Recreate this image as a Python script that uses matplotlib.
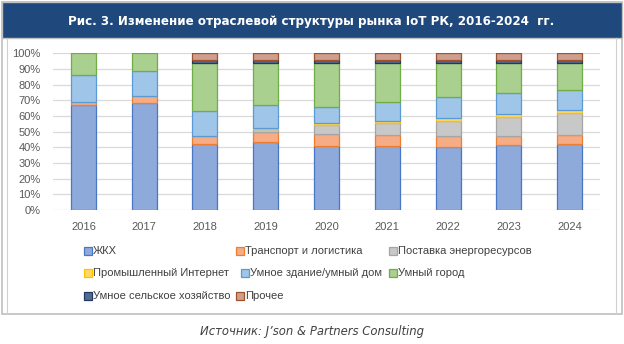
import numpy as np
import matplotlib
matplotlib.use("Agg")
from matplotlib import pyplot as plt
from matplotlib.patches import Rectangle
from matplotlib.lines import Line2D
from matplotlib.ticker import PercentFormatter

plt.rcParams['font.family'] = ['Liberation Sans', 'DejaVu Sans']

years = ["2016", "2017", "2018", "2019", "2020", "2021", "2022", "2023", "2024"]
segments = ["ЖКХ", "Транспорт и логистика", "Поставка энергоресурсов",
            "Промышленный Интернет", "Умное здание/умный дом", "Умный город",
            "Умное сельское хозяйство", "Прочее"]

# shares in %, one list per segment, in the order of years
zhkh      = [67, 68, 42.0, 43.5, 41.0, 41.0, 40.5, 41.5, 42.0]
transport = [2,  5,  5.0,  6.0,  7.5,  7.0,  7.0,  6.0,  6.0]
energy    = [0,  0,  0.5,  2.5,  5.5,  7.5,  9.5, 12.0, 14.0]
industry  = [0,  0,  0.0,  0.5,  1.5,  1.5,  1.5,  1.5,  1.5]
building  = [17, 16, 15.5, 14.5, 10.0, 12.0, 13.5, 13.5, 13.0]
city      = [14, 11, 30.5, 26.5, 28.0, 24.5, 21.5, 19.0, 17.0]
agro      = [0,  0,  2.0,  2.0,  2.0,  2.0,  2.0,  2.0,  2.0]
other     = [0,  0,  4.5,  4.5,  4.5,  4.5,  4.5,  4.5,  4.5]

series = [zhkh, transport, energy, industry, building, city, agro, other]
fills = ["#8eaadb", "#f6ad86", "#c8c8c8", "#ffd862", "#9fc5e8", "#a9d08e", "#56698f", "#cf9e8f"]
edges = ["#4a76c6", "#ed7d31", "#a5a5a5", "#ffc000", "#5b9bd5", "#70ad47", "#203864", "#a0522d"]

W, H = 624, 344
fig = plt.figure(figsize=(W / 100, H / 100), dpi=100)

def fx(x):
    return x / W

def fy(y):
    return 1 - y / H

# frame and title banner
fig.add_artist(Rectangle((fx(2), fy(314)), fx(620), (312) / H, transform=fig.transFigure,
                         facecolor="white", edgecolor="#bfbfbf", lw=1.2, zorder=0))
fig.add_artist(Line2D([fx(7), fx(7)], [fy(38), fy(313)], transform=fig.transFigure, color="#d0d0d0", lw=0.8))
fig.add_artist(Line2D([fx(616), fx(616)], [fy(38), fy(313)], transform=fig.transFigure, color="#d0d0d0", lw=0.8))
fig.add_artist(Rectangle((fx(2), fy(38)), fx(620), 36 / H, transform=fig.transFigure,
                         facecolor="#1f497d", edgecolor="#bfbfbf", lw=1.0, zorder=1))
fig.text(fx(311), fy(21), "Рис. 3. Изменение отраслевой структуры рынка IoT РК, 2016-2024  гг.",
         color="white", fontsize=8.6, fontweight="bold", ha="center", va="center",
         family=["DejaVu Sans"])

ax = fig.add_axes([fx(53), fy(210), fx(600) - fx(53), fy(53.3) - fy(210)])
x = np.arange(len(years))
bottom = np.zeros(len(years))
for vals, fc, ec in zip(series, fills, edges):
    v = np.array(vals, dtype=float)
    show = v > 0
    ax.bar(x[show], v[show], width=0.41, bottom=bottom[show], color=fc, edgecolor=ec,
           linewidth=0.9, zorder=3)
    bottom += v

ax.set_xlim(-0.5, len(years) - 0.5)
ax.set_ylim(0, 100)
ax.set_yticks(np.arange(0, 101, 10))
ax.yaxis.set_major_formatter(PercentFormatter(decimals=0))
ax.set_xticks(x)
ax.set_xticklabels(years)
ax.grid(axis="y", color="#d9d9d9", lw=0.9, zorder=0)
for s in ax.spines.values():
    s.set_visible(False)
ax.tick_params(length=0, labelsize=8, colors="#595959")
ax.tick_params(axis="y", pad=9)
ax.tick_params(axis="x", pad=9)

# legend laid out in three rows
leg_pos = [(88, 251), (240, 251), (393, 251),
           (88, 273), (245, 273), (393, 273),
           (88, 296), (240, 296)]
for (lx, ly), name, fc, ec in zip(leg_pos, segments, fills, edges):
    fig.add_artist(Rectangle((fx(lx - 4), fy(ly + 4)), 8 / W, 8 / H, transform=fig.transFigure,
                             facecolor=fc, edgecolor=ec, lw=0.9))
    fig.text(fx(lx + 5), fy(ly), name, fontsize=8, color="#404040", ha="left", va="center")

fig.text(fx(312), fy(331), "Источник: J’son & Partners Consulting", fontsize=8.4,
         style="italic", color="#404040", ha="center", va="center", family=["DejaVu Sans"])

fig.savefig("out.png", dpi=100)
